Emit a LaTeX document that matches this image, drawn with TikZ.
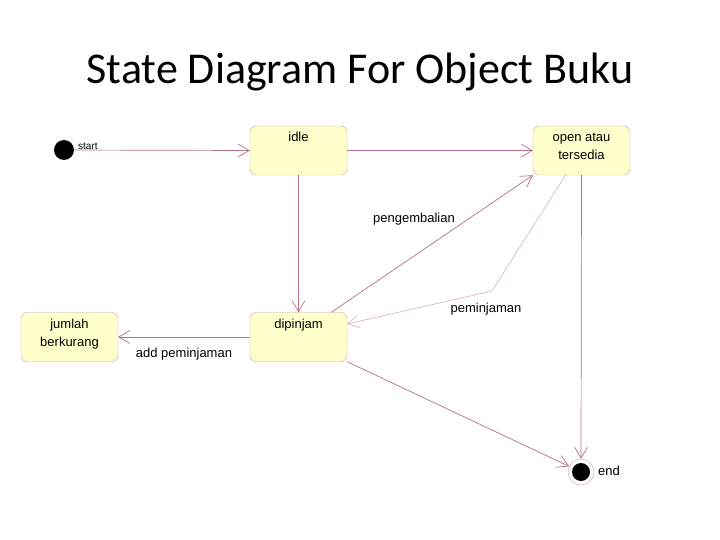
\documentclass[tikz,border=0pt]{standalone}
\usepackage{fontspec}
\setmainfont{Liberation Sans}
\newfontfamily\titlefont{Carlito}
\usepackage{tikz}
\usetikzlibrary{arrows.meta, positioning, calc}

\definecolor{statefill}{HTML}{FFFFCC}
\definecolor{stateline}{HTML}{C99CA6}
\definecolor{transline}{HTML}{B4708A}
\definecolor{faintline}{HTML}{D9B8C2}

\newcommand{\stateText}[1]{\parbox[t][43pt][t]{91pt}{\centering\strut #1}}

\begin{document}
\begin{tikzpicture}[x=1pt, y=-1pt,
    state/.style={draw=stateline, fill=statefill, rounded corners=6pt, inner sep=3pt,
        font=\fontsize{13}{18}\selectfont, minimum width=97pt, minimum height=49pt},
    trans/.style={draw=transline, line width=0.7pt, -{Straight Barb[length=11pt, width=13pt]}},
    lbl/.style={font=\fontsize{13}{15}\selectfont, inner sep=0pt}
]
\useasboundingbox (0,0) rectangle (720,540);

% title
\node[font=\titlefont\fontsize{44}{50}\selectfont, anchor=base] (title) at (360,84) {State Diagram For Object Buku};

% states
\node[circle, fill=black, minimum size=20pt, inner sep=0pt] (startState) at (64,150) {};
\node[state] (idle) at (298.5,150.5) {\stateText{idle}};
\node[state] (open) at (581.5,150.5) {\stateText{open atau\\tersedia}};
\node[state] (dipinjam) at (298.5,337) {\stateText{dipinjam}};
\node[state] (jumlah) at (69.5,337) {\stateText{jumlah\\berkurang}};
\node[circle, draw=stateline, fill=white, minimum size=26pt, inner sep=0pt,
    path picture={\fill[black] (path picture bounding box.center) circle (9pt);}] (endState) at (581,472) {};

% labels
\node[lbl, font=\fontsize{10}{12}\selectfont, anchor=west] (startLbl) at (78,146) {start};
\node[lbl, anchor=west] (endLbl) at (598,471) {end};
\node[lbl] (kembaliLbl) at (414,219) {pengembalian};
\node[lbl] (pinjamLbl) at (486,309) {peminjaman};
\node[lbl] (addLbl) at (184,354) {add peminjaman};

% transitions
\coordinate (bend) at (492,291);
\draw[trans] (startState) -- (idle.west);
\draw[trans] (idle.east) -- (open.west);
\draw[trans] (idle.south) -- (dipinjam.north);
\draw[trans] (dipinjam.37) -- (open.south west);
\draw[trans, draw=faintline] (open.237) -- (bend) -- (dipinjam.15);
\draw[trans] (dipinjam.west) -- (jumlah.east);
\draw[trans] (dipinjam.south east) -- (endState);
\draw[trans] (open.south) -- (endState.north);
\end{tikzpicture}
\end{document}
